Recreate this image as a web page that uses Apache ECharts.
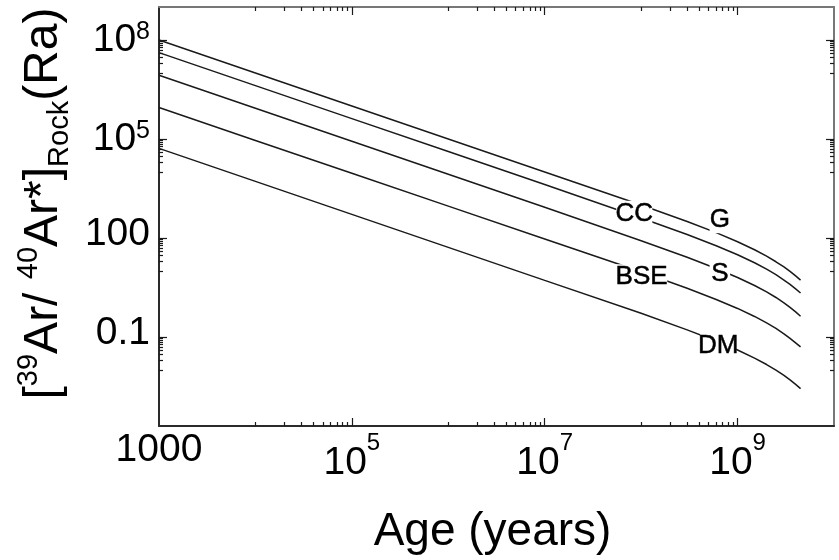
<!DOCTYPE html>
<html lang="en">
<head>
    <meta charset="UTF-8">
    <title>39Ar/40Ar* vs Age</title>
    <style>
        html, body { margin: 0; padding: 0; background: #fff; }
    </style>
</head>
<body>
    <div id="chart" style="width:839px; height:560px"></div>

    <script src="https://cdn.jsdelivr.net/npm/echarts@6/dist/echarts.min.js"></script>
    <script>
        // ages (years) at which the curves were read
        const ages = [1e3, 1e4, 1e5, 1e6, 1e7, 1e8, 3e8, 6e8, 1e9, 1.5e9, 2e9, 2.5e9, 3e9, 3.5e9, 4e9, 4.5e9];

        // [39Ar/40Ar*]Rock (Ra)
        const gValues   = [1.0e8, 1.0e7, 1.0e6, 1.0e5, 1.0e4, 1000, 315, 145, 77, 44, 28, 19, 13.5, 9.7, 7.1, 5.3];
        const ccValues  = [4.15e7, 4.15e6, 4.15e5, 4.15e4, 4150, 404, 127, 58, 31, 17.7, 11.3, 7.7, 5.4, 3.9, 2.85, 2.15];
        const sValues   = [8.5e6, 8.5e5, 8.5e4, 8500, 849, 82.6, 26, 11.9, 6.35, 3.63, 2.32, 1.57, 1.1, 0.79, 0.577, 0.424];
        const bseValues = [8.95e5, 9.04e4, 9.12e3, 923, 93.3, 9.5, 2.99, 1.37, 0.731, 0.418, 0.267, 0.181, 0.127, 0.091, 0.0664, 0.05];
        const dmValues  = [5.18e4, 5.18e3, 518, 51.8, 5.18, 0.52, 0.164, 0.075, 0.0402, 0.0229, 0.0146, 0.0099, 0.00697, 0.005, 0.00365, 0.00272];

        // curve labels (text sits on the line, white box breaks the line)
        const labelNames  = ['CC', 'G', 'BSE', 'S', 'DM'];
        const labelAges   = [8.5e7, 6.55e8, 1.01e8, 6.55e8, 6.3e8];
        const labelValues = [541, 346, 6.45, 8.18, 0.052];

        // axis ticks
        const xLabelTicks = [1e3, 1e5, 1e7, 1e9];
        const xMajorTicks = [1e5, 1e7, 1e9];
        const yLabelTicks = [0.1, 100, 1e5, 1e8];
        const yMajorTicks = [0.1, 100, 1e5, 1e8];
        const mult = [1, 2, 3, 4, 5, 6, 7, 8, 9];
        const xMinorTicks = [].concat(...[1e4, 1e6, 1e8].map(d => mult.map(k => k * d)));
        const yMinorTicks = [].concat(...[0.01, 10, 1e4, 1e7].map(d => mult.map(k => k * d)));

        const font = "'Liberation Sans', Arial, sans-serif";
        const ink = '#1a1a1a';

        function tickLabel(v) {
            const e = Math.round(Math.log10(v));
            if (e >= 4) return '{b|10}{s|' + e + '}';
            return '{p|' + (e < 0 ? '0.1' : String(Math.pow(10, e))) + '}';
        }

        // helper: a log axis that only draws ticks (and maybe its line)
        function tickAxis(dim, position, ticks, len, lineColor) {
            return {
                type: 'log',
                logBase: 10,
                min: dim === 'x' ? 1e3 : 2e-4,
                max: dim === 'x' ? 1e10 : 1e9,
                position: position,
                axisLine: { show: !!lineColor, onZero: false, lineStyle: { color: lineColor || ink, width: 2 } },
                axisTick: { show: true, inside: true, length: len, customValues: ticks, lineStyle: { color: ink, width: 1.2 } },
                axisLabel: { show: false },
                splitLine: { show: false },
                minorTick: { show: false },
                minorSplitLine: { show: false }
            };
        }

        const chart = echarts.init(document.getElementById('chart'));

        const xMain = tickAxis('x', 'bottom', xMajorTicks, 8, '#2a2a2a');
        xMain.axisLabel = {
            show: true,
            margin: 5,
            customValues: xLabelTicks,
            formatter: tickLabel,
            fontFamily: font,
            color: '#000',
            rich: {
                p: { fontSize: 39, lineHeight: 24, verticalAlign: 'top', fontFamily: font, color: '#000' },
                b: { fontSize: 39, lineHeight: 52, verticalAlign: 'bottom', fontFamily: font, color: '#000' },
                s: { fontSize: 24, lineHeight: 22, verticalAlign: 'top', fontFamily: font, color: '#000' }
            }
        };
        xMain.name = 'Age (years)';
        xMain.nameLocation = 'middle';
        xMain.nameGap = 83;
        xMain.nameTextStyle = { fontSize: 46, fontFamily: font, color: '#000', padding: [0, 8, 0, 0] };

        const yMain = tickAxis('y', 'left', yMajorTicks, 8, '#2a2a2a');
        yMain.axisLabel = {
            show: true,
            margin: 9,
            customValues: yLabelTicks,
            formatter: tickLabel,
            fontFamily: font,
            color: '#000',
            rich: {
                p: { fontSize: 39, lineHeight: 32, padding: [0, 0, 8, 0], verticalAlign: 'middle', fontFamily: font, color: '#000' },
                b: { fontSize: 39, lineHeight: 40, verticalAlign: 'bottom', fontFamily: font, color: '#000' },
                s: { fontSize: 25, lineHeight: 22, verticalAlign: 'top', fontFamily: font, color: '#000' }
            }
        };
        yMain.name = '{b|[}{sup|39}{b|Ar/ }{sup|40}{b|Ar*}{b|]}{sub|Rock}{b|(Ra)}';
        yMain.nameLocation = 'middle';
        yMain.nameRotate = 90;
        yMain.nameGap = 84;
        yMain.nameTextStyle = {
            fontFamily: font,
            color: '#000',
            padding: [0, 0, 0, 26],
            rich: {
                b: { fontSize: 48, lineHeight: 60, verticalAlign: 'middle', fontFamily: font, color: '#000' },
                sup: { fontSize: 29, lineHeight: 11, verticalAlign: 'top', fontFamily: font, color: '#000' },
                sub: { fontSize: 29, lineHeight: 42, verticalAlign: 'bottom', fontFamily: font, color: '#000' }
            }
        };

        const curves = [gValues, ccValues, sValues, bseValues, dmValues];
        const curveNames = ['G', 'CC', 'S', 'BSE', 'DM'];

        const series = curves.map((vals, i) => ({
            name: curveNames[i],
            type: 'line',
            xAxisIndex: 0,
            yAxisIndex: 0,
            showSymbol: false,
            smooth: false,
            silent: true,
            lineStyle: { color: ink, width: 1.5 },
            data: ages.map((a, j) => [a, vals[j]])
        }));

        // curve names: a white box under each name cuts the line it sits on
        series.push({
            type: 'scatter',
            xAxisIndex: 0,
            yAxisIndex: 0,
            z: 10,
            symbol: 'rect',
            symbolSize: (val, p) => [p.name.length * 15.5 + 5, 26],
            silent: true,
            itemStyle: { color: '#fff', opacity: 1 },
            label: {
                show: true,
                position: 'inside',
                formatter: '{b}',
                fontSize: 26,
                fontFamily: font,
                color: '#000',
                opacity: 1,
                textBorderWidth: 0.5,
                textBorderColor: '#000'
            },
            data: labelNames.map((n, i) => ({ name: n, value: [labelAges[i], labelValues[i]] }))
        });

        chart.setOption({
            animation: false,
            backgroundColor: '#fff',
            grid: { left: 159, top: 7, width: 675, height: 419, containLabel: false },
            xAxis: [
                xMain,
                tickAxis('x', 'bottom', xMinorTicks, 4),
                tickAxis('x', 'top', xMajorTicks, 8, '#777'),
                tickAxis('x', 'top', xMinorTicks, 4)
            ],
            yAxis: [
                yMain,
                tickAxis('y', 'left', yMinorTicks, 4),
                tickAxis('y', 'right', yMajorTicks, 8, '#777'),
                tickAxis('y', 'right', yMinorTicks, 4)
            ],
            series: series
        });
    </script>
</body>
</html>
